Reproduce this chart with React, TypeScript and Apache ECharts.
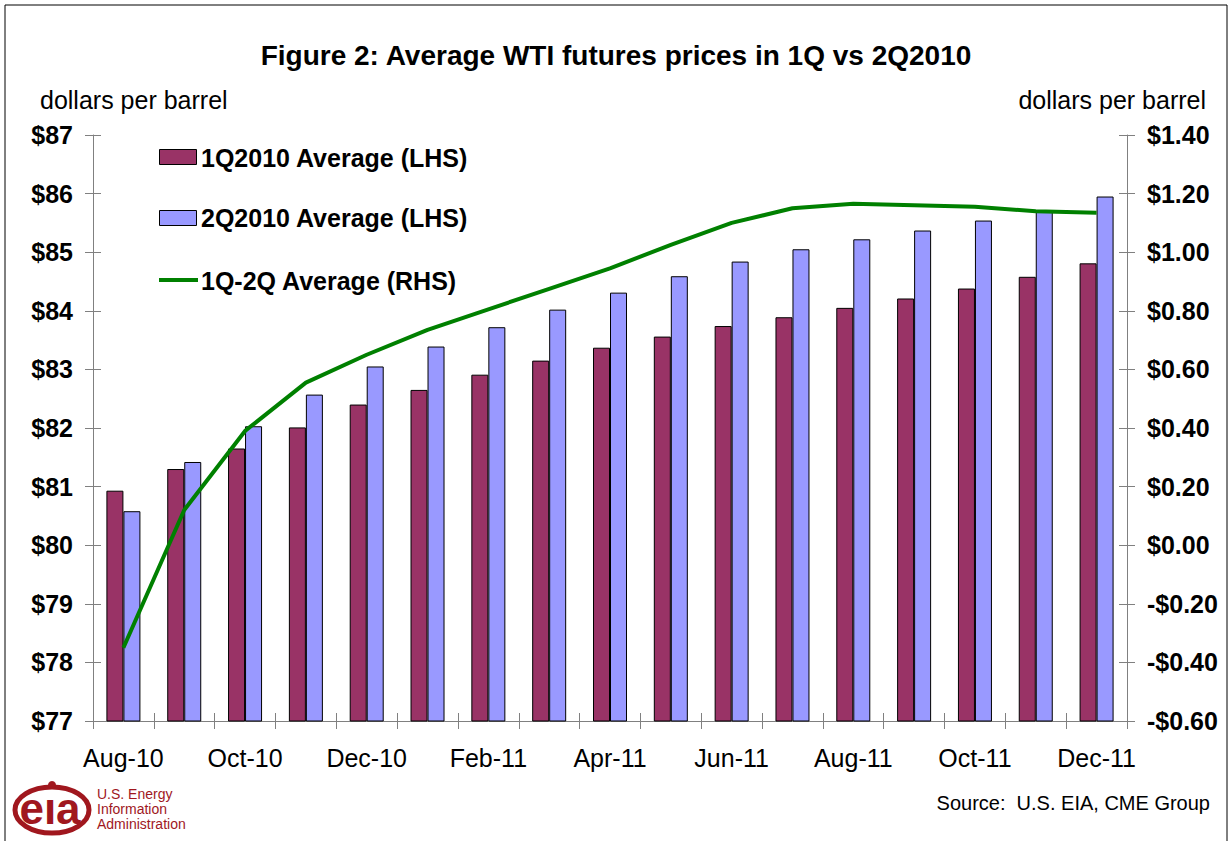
import React, { useEffect, useRef } from "react";
import * as echarts from "echarts";

const months = ["Aug-10","Sep-10","Oct-10","Nov-10","Dec-10","Jan-11","Feb-11","Mar-11","Apr-11","May-11","Jun-11","Jul-11","Aug-11","Sep-11","Oct-11","Nov-11","Dec-11"];
const q1Avg = [80.93,81.30,81.65,82.01,82.40,82.65,82.91,83.15,83.37,83.56,83.74,83.89,84.05,84.21,84.38,84.58,84.81];
const q2Avg = [80.58,81.42,82.03,82.57,83.05,83.39,83.72,84.02,84.31,84.59,84.84,85.05,85.22,85.37,85.54,85.72,85.95];
const diffAvg = [-0.35,0.12,0.39,0.555,0.65,0.735,0.805,0.875,0.945,1.025,1.10,1.15,1.165,1.16,1.155,1.14,1.135];
const seriesNames = ["1Q2010 Average (LHS)", "2Q2010 Average (LHS)", "1Q-2Q Average (RHS)"];
const leftTicks = { min: 77, max: 87, interval: 1 };
const rightTicks = { min: -0.6, max: 1.4, interval: 0.2 };

const FONT = "Arial, 'Liberation Sans', sans-serif";
const C1 = "#993366";
const C2 = "#9999FF";
const CL = "#008000";
const LOGO = "#A0171E";

export default function App() {
  const ref = useRef<HTMLDivElement>(null);
  useEffect(() => {
    if (!ref.current) return;
    const chart = echarts.init(ref.current, null, { renderer: "svg" });
    const axisLine = { show: true, onZero: false, lineStyle: { color: "#808080", width: 1 } };
    const tickLabel = { fontFamily: FONT, fontSize: 25, fontWeight: "bold" as const, color: "#000" };
    const legendFont = "bold 25px " + FONT;
    chart.setOption({
      animation: false,
      backgroundColor: "#fff",
      textStyle: { fontFamily: FONT },
      title: {
        text: "Figure 2: Average WTI futures prices in 1Q vs 2Q2010",
        left: "center",
        top: 36,
        textStyle: { fontFamily: FONT, fontSize: 28, fontWeight: "bold", color: "#000" },
      },
      grid: { left: 93, right: 105, top: 135, bottom: 120 },
      xAxis: [
        {
          type: "category",
          data: months,
          axisLine,
          axisTick: { show: true, interval: 0, length: 8, lineStyle: { color: "#808080" } },
          axisLabel: { interval: 1, margin: 24, fontFamily: FONT, fontSize: 25, color: "#000" },
        },
        {
          type: "category",
          data: months,
          position: "bottom",
          axisLine: { show: false, onZero: false },
          axisTick: { show: true, inside: true, interval: 0, length: 8, lineStyle: { color: "#808080" } },
          axisLabel: { show: false },
        },
      ],
      yAxis: [
        {
          type: "value",
          position: "left",
          ...leftTicks,
          axisLine,
          axisTick: { show: true, length: 8, lineStyle: { color: "#808080" } },
          axisLabel: { ...tickLabel, margin: 20, formatter: (v: number) => "$" + v },
          splitLine: { show: false },
        },
        {
          type: "value",
          position: "right",
          ...rightTicks,
          axisLine,
          axisTick: { show: true, length: 8, lineStyle: { color: "#808080" } },
          axisLabel: {
            ...tickLabel,
            margin: 20,
            formatter: (v: number) => (v < -1e-9 ? "-" : "") + "$" + Math.abs(v).toFixed(2),
          },
          splitLine: { show: false },
        },
        {
          type: "value",
          position: "left",
          ...leftTicks,
          axisLine: { show: false, onZero: false },
          axisTick: { show: true, inside: true, length: 8, lineStyle: { color: "#808080" } },
          axisLabel: { show: false },
          splitLine: { show: false },
        },
        {
          type: "value",
          position: "right",
          ...rightTicks,
          axisLine: { show: false, onZero: false },
          axisTick: { show: true, inside: true, length: 8, lineStyle: { color: "#808080" } },
          axisLabel: { show: false },
          splitLine: { show: false },
        },
      ],
      series: [
        {
          name: seriesNames[0],
          type: "bar",
          yAxisIndex: 0,
          data: q1Avg,
          barWidth: 17,
          barGap: "0%",
          itemStyle: { color: C1, borderColor: "#000", borderWidth: 1 },
        },
        {
          name: seriesNames[1],
          type: "bar",
          yAxisIndex: 0,
          data: q2Avg,
          barWidth: 17,
          barGap: "0%",
          itemStyle: { color: C2, borderColor: "#000", borderWidth: 1 },
        },
        {
          name: seriesNames[2],
          type: "line",
          yAxisIndex: 1,
          data: diffAvg,
          symbol: "none",
          lineStyle: { color: CL, width: 4 },
          itemStyle: { color: CL },
          z: 5,
        },
      ],
      graphic: [
        {
          type: "rect",
          shape: { x: 5, y: 5, width: 1222, height: 850 },
          style: { fill: "none", stroke: "#000", lineWidth: 1 },
          silent: true,
        },
        // legend
        { type: "rect", shape: { x: 159.5, y: 149.5, width: 37, height: 15 }, style: { fill: C1, stroke: "#000", lineWidth: 1 } },
        { type: "text", x: 201, y: 158, style: { text: seriesNames[0], font: legendFont, fill: "#000", verticalAlign: "middle" } },
        { type: "rect", shape: { x: 159.5, y: 210.5, width: 37, height: 15 }, style: { fill: C2, stroke: "#000", lineWidth: 1 } },
        { type: "text", x: 201, y: 218, style: { text: seriesNames[1], font: legendFont, fill: "#000", verticalAlign: "middle" } },
        { type: "line", shape: { x1: 159, y1: 280, x2: 198, y2: 280 }, style: { stroke: CL, lineWidth: 4 } },
        { type: "text", x: 201, y: 281, style: { text: seriesNames[2], font: legendFont, fill: "#000", verticalAlign: "middle" } },
        // unit labels
        {
          type: "text",
          x: 40,
          y: 100,
          style: { text: "dollars per barrel", font: "25px " + FONT, fill: "#000", verticalAlign: "middle" },
        },
        {
          type: "text",
          x: 1206,
          y: 100,
          style: { text: "dollars per barrel", font: "25px " + FONT, fill: "#000", align: "right", verticalAlign: "middle" },
        },
        {
          type: "text",
          x: 1210,
          y: 803,
          style: { text: "Source:  U.S. EIA, CME Group", font: "20px " + FONT, fill: "#000", align: "right", verticalAlign: "middle" },
        },
        // EIA logo
        {
          type: "ellipse",
          shape: { cx: 52, cy: 810, rx: 37, ry: 23 },
          style: { fill: "none", stroke: LOGO, lineWidth: 5 },
        },
        {
          type: "circle",
          shape: { cx: 52, cy: 785, r: 4 },
          style: { fill: LOGO },
        },
        {
          type: "text",
          x: 50,
          y: 808,
          style: { text: "e\u0131a", font: "bold 44px " + FONT, fill: LOGO, align: "center", verticalAlign: "middle" },
        },
        {
          type: "text",
          x: 97,
          y: 786,
          style: {
            text: "U.S. Energy\nInformation\nAdministration",
            font: "14px " + FONT,
            lineHeight: 15,
            fill: LOGO,
          },
        },
      ],
    });
    return () => chart.dispose();
  }, []);
  return <div ref={ref} style={{ width: 1232, height: 841, position: "absolute", left: 0, top: 0 }} />;
}
